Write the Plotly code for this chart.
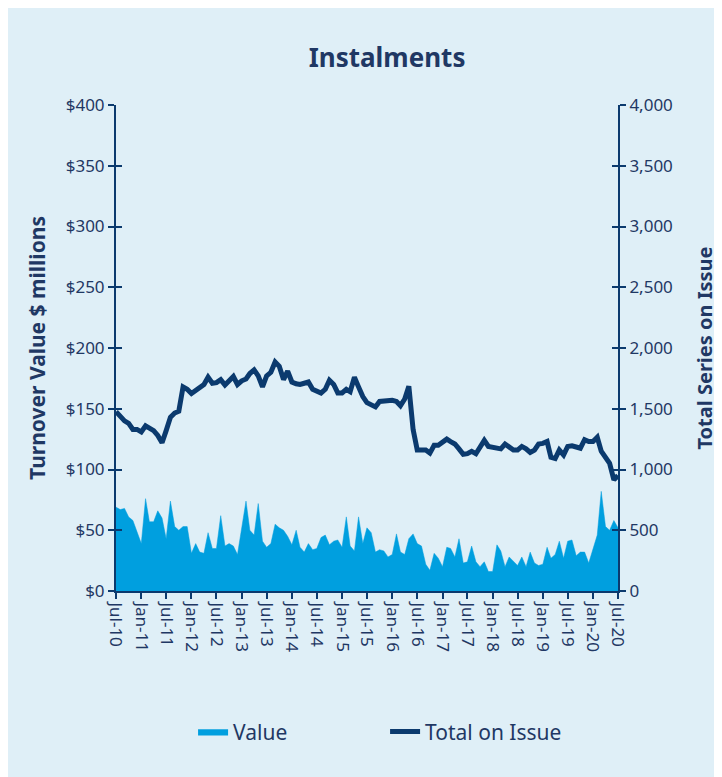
import pandas as pd
import plotly.graph_objects as go

# Monthly data Jul-2010 .. Jul-2020
months = pd.date_range("2010-07-01", "2020-07-01", freq="MS")

turnover_value = [
    69, 67, 68, 61, 58, 49, 39, 76, 57, 57, 66, 60, 43, 74, 53, 50, 53, 53, 31, 39,
    32, 31, 48, 35, 35, 62, 37, 39, 37, 30, 54, 74, 50, 46, 72, 41, 36, 39, 55, 52,
    50, 45, 38, 50, 36, 32, 39, 34, 35, 44, 46, 38, 41, 42, 36, 61, 37, 33, 61, 39,
    52, 48, 32, 34, 33, 28, 30, 47, 32, 30, 43, 47, 39, 37, 22, 17, 31, 27, 20, 36,
    35, 28, 43, 23, 24, 37, 24, 20, 24, 16, 16, 38, 33, 20, 28, 24, 21, 28, 20, 32,
    23, 21, 22, 36, 27, 30, 41, 27, 41, 42, 29, 32, 32, 23, 34, 46, 82, 53, 50, 58,
    52,
]

total_on_issue = [
    1476, 1440, 1400, 1380, 1330, 1330, 1310, 1360, 1345, 1320, 1280, 1220, 1320, 1430, 1465, 1480, 1680, 1660, 1625, 1650,
    1685, 1700, 1760, 1710, 1715, 1740, 1695, 1730, 1765, 1700, 1730, 1745, 1790, 1820, 1770, 1680, 1770, 1800, 1885, 1850,
    1740, 1810, 1720, 1705, 1700, 1710, 1720, 1660, 1640, 1630, 1660, 1735, 1700, 1630, 1630, 1660, 1640, 1760, 1680, 1600,
    1550, 1530, 1515, 1560, 1565, 1565, 1570, 1560, 1525, 1580, 1685, 1330, 1160, 1160, 1160, 1135, 1200, 1200, 1220, 1250,
    1230, 1210, 1170, 1125, 1130, 1150, 1130, 1180, 1240, 1190, 1185, 1180, 1170, 1210, 1180, 1160, 1160, 1190, 1170, 1140,
    1160, 1210, 1215, 1230, 1100, 1090, 1160, 1120, 1190, 1195, 1185, 1175, 1245, 1230, 1230, 1265, 1150, 1100, 1050, 915,
    950,
]

left_ticks = list(range(0, 401, 50))
left_ticktext = ["$" + str(v) for v in left_ticks]
right_ticks = list(range(0, 4001, 500))
right_ticktext = [f"{v:,}" for v in right_ticks]

NAVY = "#0B3A6E"
TEXT = "#1F3864"
AREA = "#009FDF"
BG = "#DFEFF7"
FONT = "Noto Sans"

fig = go.Figure()
fig.add_trace(go.Scatter(
    x=months, y=turnover_value, name="Value", mode="lines",
    fill="tozeroy", fillcolor=AREA, line=dict(color=AREA, width=0.5),
    yaxis="y",
))
fig.add_trace(go.Scatter(
    x=months, y=total_on_issue, name="Total on Issue", mode="lines",
    line=dict(color=NAVY, width=5), yaxis="y2",
))
# invisible helpers so the inner half of the crossing ticks is drawn
fig.add_trace(go.Scatter(x=[months[0]], y=[0], yaxis="y3", mode="markers",
                         marker=dict(opacity=0), showlegend=False, hoverinfo="skip"))
fig.add_trace(go.Scatter(x=[months[0]], y=[0], yaxis="y4", mode="markers",
                         marker=dict(opacity=0), showlegend=False, hoverinfo="skip"))

axis_common = dict(showgrid=False, zeroline=False, showline=True, linecolor=NAVY,
                   linewidth=2, ticks="outside", tickcolor=NAVY, tickwidth=2, ticklen=6,
                   tickfont=dict(family=FONT, size=17, color=TEXT))

fig.update_layout(
    width=722, height=777,
    paper_bgcolor=BG, plot_bgcolor=BG,
    margin=dict(l=108, r=112, t=97, b=194),
    title=dict(text="<b>Instalments</b>", x=0.525, xref="container", xanchor="center",
               y=1 - 50 / 777, yref="container", yanchor="middle",
               font=dict(family=FONT, size=26, color=TEXT)),
    xaxis=dict(
        **axis_common,
        type="date", range=[months[0], months[-1]],
        tick0=months[0], dtick="M6", tickformat="%b-%y", tickangle=90,
    ),
    yaxis=dict(
        **axis_common,
        range=[0, 400], tickvals=left_ticks, ticktext=left_ticktext,
        title=dict(text="<b>Turnover Value $ millions</b>",
                   font=dict(family=FONT, size=21, color=TEXT), standoff=14),
    ),
    yaxis2=dict(
        **axis_common,
        range=[0, 4000], tickvals=right_ticks, ticktext=right_ticktext,
        overlaying="y", side="right",
        title=dict(text="<b>Total Series on Issue</b>",
                   font=dict(family=FONT, size=20, color=TEXT), standoff=26),
    ),
    yaxis3=dict(range=[0, 400], tickvals=left_ticks, overlaying="y", side="left",
                showgrid=False, zeroline=False, showline=False, showticklabels=False,
                ticks="inside", ticklen=6, tickwidth=2, tickcolor=NAVY),
    yaxis4=dict(range=[0, 4000], tickvals=right_ticks, overlaying="y", side="right",
                showgrid=False, zeroline=False, showline=False, showticklabels=False,
                ticks="inside", ticklen=6, tickwidth=2, tickcolor=NAVY),
    legend=dict(orientation="h", x=0.536, xanchor="center", y=-0.29, yanchor="middle",
                font=dict(family=FONT, size=21, color=TEXT), bgcolor="rgba(0,0,0,0)",
                entrywidth=147, traceorder="normal"),
    showlegend=True,
)

fig.write_html("out.html")
